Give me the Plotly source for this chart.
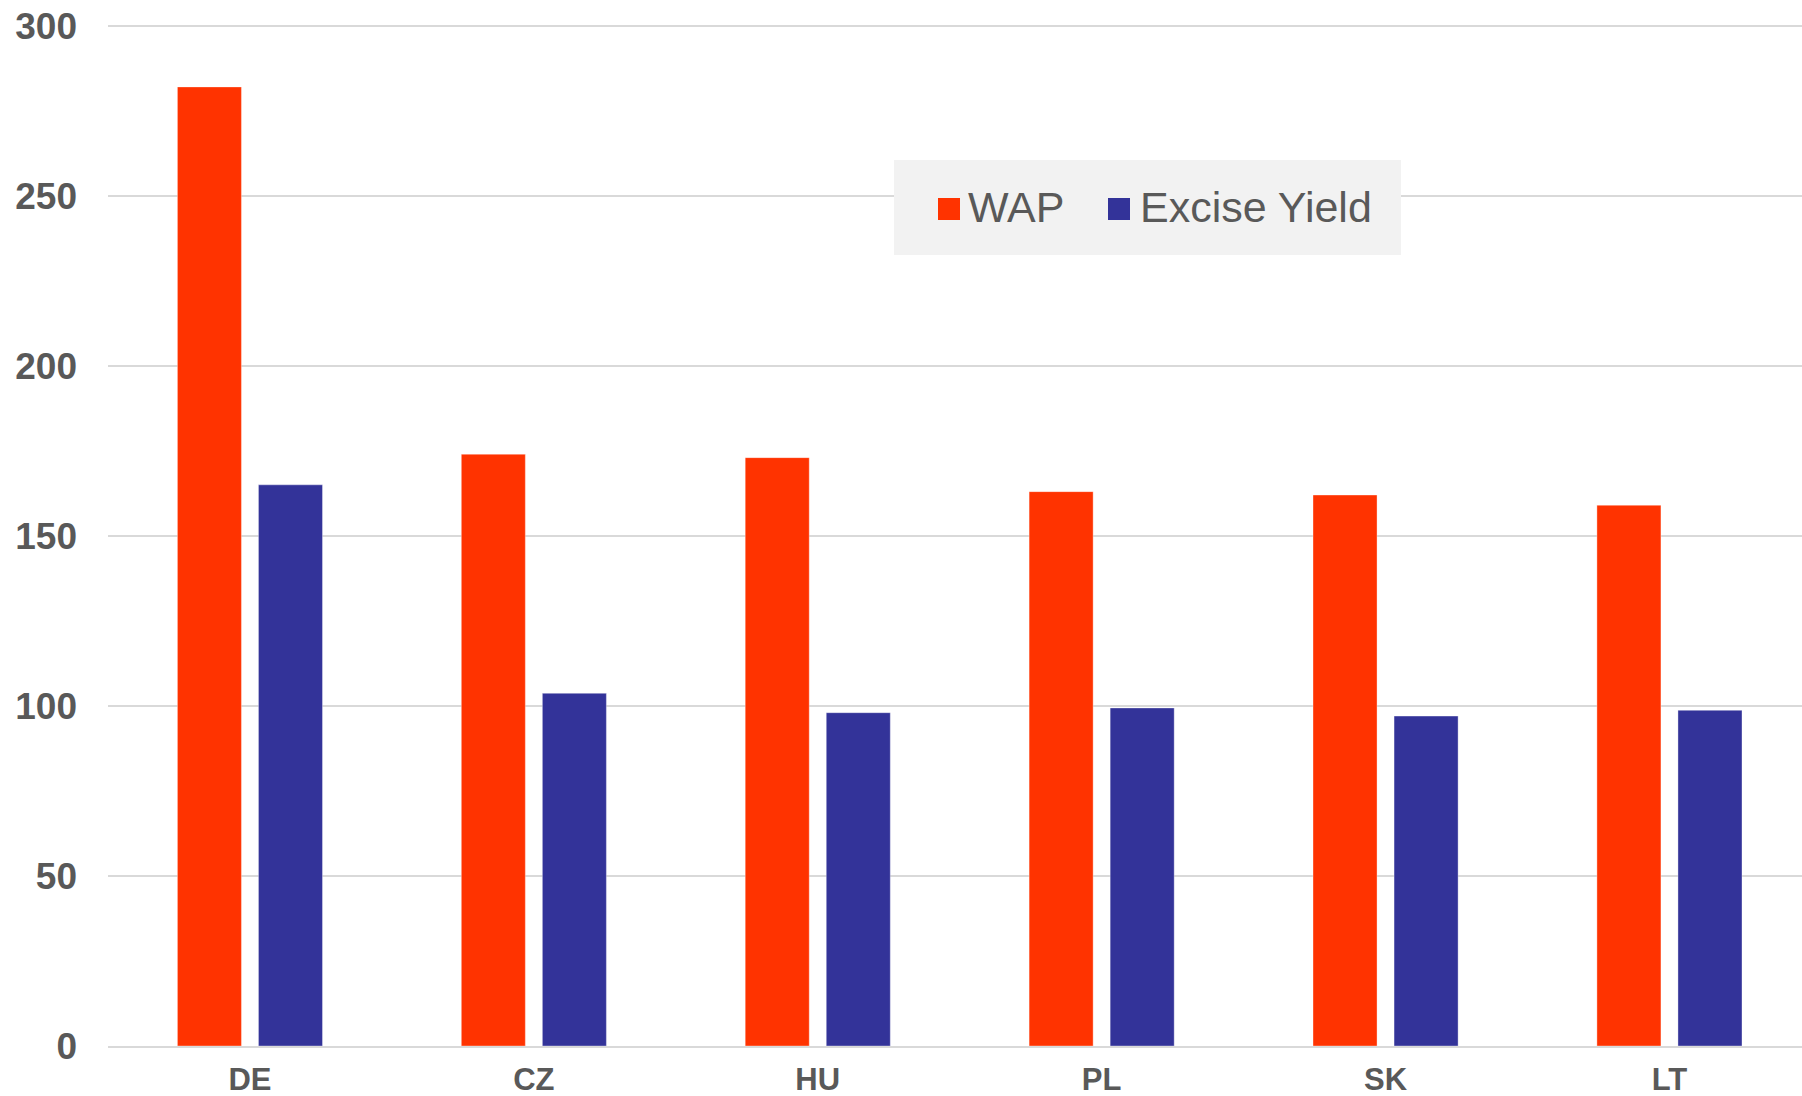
import plotly.graph_objects as go

categories = ["DE", "CZ", "HU", "PL", "SK", "LT"]
series_names = ["WAP", "Excise Yield"]
wap = [282, 174, 173, 163, 162, 159]
excise = [165, 103.7, 98, 99.4, 97, 98.7]
colors = ["#FF3300", "#333399"]
y_ticks = [0, 50, 100, 150, 200, 250, 300]

W, H = 1802, 1096
ML, MR, MT, MB = 108, 0, 24, 50
pw = W - ML - MR
ph = H - MT - MB
cat_px = 283.9  # pixel width of one category slot in the original

def px_x(x):
    return (x - ML) / pw

def px_y(y):
    return (H - MB - y) / ph

fig = go.Figure()
for name, vals, col in zip(series_names, [wap, excise], colors):
    fig.add_trace(go.Bar(
        x=categories, y=vals, name=name,
        marker=dict(color=col, line=dict(color="rgba(255,255,255,0.35)", width=1)),
        showlegend=False,
    ))

# manual legend (large squares like the original)
shapes = [dict(type="rect", xref="paper", yref="paper",
               x0=px_x(894), x1=px_x(1401), y0=px_y(255), y1=px_y(160),
               fillcolor="#F2F2F2", line=dict(width=0), layer="above")]
annotations = []
legend_sq = [938, 1108]
legend_tx = [966, 1138]
for i, name in enumerate(series_names):
    shapes.append(dict(type="rect", xref="paper", yref="paper",
                       x0=px_x(legend_sq[i]), x1=px_x(legend_sq[i] + 22),
                       y0=px_y(220), y1=px_y(198),
                       fillcolor=colors[i], line=dict(width=0), layer="above"))
    annotations.append(dict(xref="paper", yref="paper", x=px_x(legend_tx[i]), y=px_y(207),
                            xanchor="left", yanchor="middle", text=name, showarrow=False,
                            font=dict(family="Liberation Sans, Arial", size=43, color="#595959")))

fig.update_layout(
    width=W, height=H,
    margin=dict(l=ML, r=MR, t=MT, b=MB, autoexpand=False),
    paper_bgcolor="white", plot_bgcolor="white",
    barmode="group", bargap=0.429, bargroupgap=0.21,
    shapes=shapes, annotations=annotations,
    font=dict(family="Liberation Sans, Arial", color="#595959"),
)
fig.update_xaxes(
    range=[-0.5, -0.5 + pw / cat_px], automargin=False,
    showgrid=False, showline=True, linecolor="#D9D9D9", linewidth=2,
    ticks="", tickfont=dict(size=31, family="Liberation Sans, Arial", color="#595959", weight="bold"),
    ticklabelstandoff=5,
)
fig.update_yaxes(
    range=[0, 300.5], tickvals=y_ticks, automargin=False,
    showgrid=True, gridcolor="#D9D9D9", gridwidth=1.5,
    zeroline=False, showline=False, ticks="",
    tickfont=dict(size=37, family="Liberation Sans, Arial", color="#595959", weight="bold"),
    ticklabelstandoff=30,
)

fig.write_html("out.html", config={"displayModeBar": False},
               post_script="document.body.style.margin='0';document.body.style.overflow='hidden';")
